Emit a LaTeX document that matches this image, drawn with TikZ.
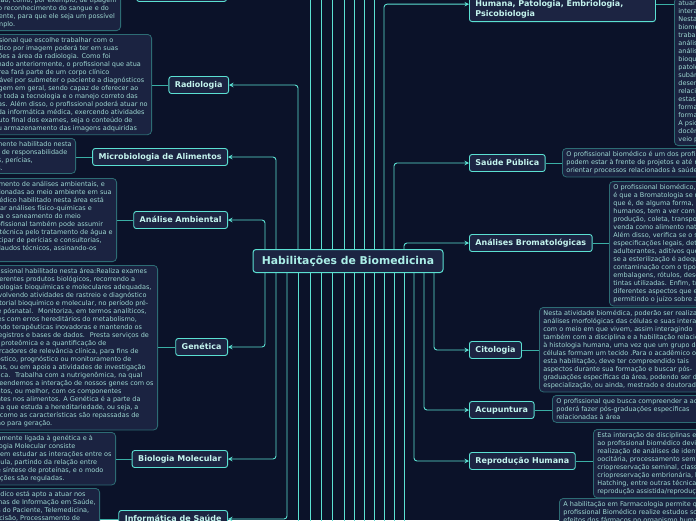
\documentclass[tikz,border=0pt]{standalone}
\usepackage{fontspec}
\setmainfont{DejaVu Sans}
\usetikzlibrary{arrows.meta,positioning}

\definecolor{bgnavy}{HTML}{0B1229}
\definecolor{boxnavy}{HTML}{1C2442}
\definecolor{notefill}{HTML}{1B2341}
\definecolor{noteedge}{HTML}{2D6C74}
\definecolor{cyanline}{HTML}{5BE0D2}
\definecolor{stubteal}{HTML}{3AAFA5}
\definecolor{notetext}{HTML}{9ED8D2}
\definecolor{branchtext}{HTML}{C4F4EE}
\definecolor{hubtext}{HTML}{ABEFE8}

\begin{document}
\begin{tikzpicture}[x=1pt, y=-1pt,
    hub/.style={rectangle, rounded corners=3pt, draw=cyanline, line width=1pt, fill=boxnavy, text=hubtext,
        font=\fontsize{10.8}{13}\selectfont\bfseries, minimum width=190pt, minimum height=23pt, inner sep=0pt},
    branch/.style={rectangle, rounded corners=2.5pt, draw=cyanline, line width=0.9pt, fill=boxnavy, text=branchtext,
        font=\fontsize{8}{10}\selectfont\bfseries, minimum height=17pt, inner xsep=6pt, inner ysep=0pt,
        text height=6pt, text depth=1.8pt},
    note/.style={rectangle, rounded corners=4pt, draw=noteedge, line width=0.8pt, fill=notefill, text=notetext,
        font=\fontsize{6.5}{8}\selectfont, align=left, inner xsep=4pt, inner ysep=3pt},
    link/.style={draw=cyanline, line width=0.9pt, rounded corners=3pt, -{Stealth[length=4.5pt,width=4.5pt]}},
    trunk/.style={draw=cyanline, line width=0.9pt},
    stub/.style={draw=stubteal, line width=1pt}
]
    \useasboundingbox (0,0) rectangle (696,520);
    \fill[bgnavy] (0,0) rectangle (696,520);
    \clip (0,0) rectangle (696,520);

    % centre
    \node[hub] (hab) at (348,261) {Habilitações de Biomedicina};

    % left branches
    \node[branch, anchor=east] (sangue) at (227,-7) {Banco de Sangue};
    \node[branch, anchor=east] (radio) at (229,85) {Radiologia};
    \node[branch, anchor=east] (micro) at (228,157) {Microbiologia de Alimentos};
    \node[branch, anchor=east] (amb) at (228,220) {Análise Ambiental};
    \node[branch, anchor=east] (gen) at (228,347) {Genética};
    \node[branch, anchor=east] (biomol) at (228,459) {Biologia Molecular};
    \node[branch, anchor=east] (info) at (228,519) {Informática de Saúde};

    % right branches
    \node[branch, anchor=south west, text width=174pt, align=left, text height=, text depth=, inner ysep=3pt] (anat) at (469,22)
        {\strut\\Humana, Patologia, Embriologia,\\Psicobiologia};
    \node[branch, anchor=west] (saude) at (469,163) {Saúde Pública};
    \node[branch, anchor=west] (brom) at (469,243) {Análises Bromatológicas};
    \node[branch, anchor=west] (cito) at (469,350) {Citologia};
    \node[branch, anchor=west] (acu) at (469,410) {Acupuntura};
    \node[branch, anchor=west] (repro) at (469,461) {Reprodução Humana};

    % notes, left
    \node[note, anchor=south east] (sanguenote) at (121,31) {ficação, como, por exemplo, de tipagem\\
        até o reconhecimento do sangue e do\\paciente, para que ele seja um possível\\exemplo.};
    \node[note, anchor=north east] (radionote) at (152,34) {O profissional que escolhe trabalhar com o\\
        diagnóstico por imagem poderá ter em suas\\atribuições a área da radiologia. Como foi\\
        mencionado anteriormente, o profissional que atua\\nessa área fará parte de um corpo clínico\\
        responsável por submeter o paciente a diagnósticos\\por imagem em geral, sendo capaz de oferecer ao\\
        paciente toda a tecnologia e o manejo correto das\\máquinas. Além disso, o profissional poderá atuar no\\
        campo da informática médica, exercendo atividades\\no produto final dos exames, seja o conteúdo de\\
        laudo ou armazenamento das imagens adquiridas};
    \node[note, anchor=north east] (micronote) at (76,138) {devidamente habilitado nesta\\
        funções de responsabilidade\\técnicos, perícias,\\análises.};
    \node[note, anchor=north east] (ambnote) at (117,178) {tratamento de análises ambientais, e\\
        relacionadas ao meio ambiente em sua\\biomédico habilitado nesta área está\\
        efetuar análises físico-químicas e\\e para o saneamento do meio\\O profissional também pode assumir\\
        área técnica pelo tratamento de água e\\participar de perícias e consultorias,\\
        com laudos técnicos, assinando-os\\\mbox{}};
    \node[note, anchor=north east] (gennote) at (158,265) {O profissional habilitado nesta área:Realiza exames\\
        em diferentes produtos biológicos, recorrendo a\\metodologias bioquímicas e moleculares adequadas,\\
        desenvolvendo atividades de rastreio e diagnóstico\\laboratorial bioquímico e molecular, no período pré-\\
        natal e pósnatal.~ Monitoriza, em termos analíticos,\\doentes com erros hereditários do metabolismo,\\
        avaliando terapêuticas inovadoras e mantendo os\\seus registros e bases de dados.~ Presta serviços de\\
        DNA e proteômica e a quantificação de\\biomarcadores de relevância clínica, para fins de\\
        diagnóstico, prognóstico ou monitoramento de\\doenças, ou em apoio a atividades de investigação\\
        científica.~ Trabalha com a nutrigenômica, na qual\\compreendemos a interação de nossos genes com os\\
        alimentos, ou melhor, com os componentes\\presentes nos alimentos. A Genética é a parte da\\
        biologia que estuda a hereditariedade, ou seja, a\\forma como as características são repassadas de\\
        geração para geração.};
    \node[note, anchor=north east] (biomolnote) at (116,432) {Intimamente ligada à genética e à\\
        a Biologia Molecular consiste\\tanto em estudar as interações entre os\\da célula, partindo da relação entre\\
        RNA e síntese de proteínas, e o modo\\interações são reguladas.};
    \node[note, anchor=north east] (infonote) at (100,488) {biomédico está apto a atuar nos\\
        Sistemas de Informação em Saúde,\\Dados do Paciente, Telemedicina,\\de Decisão, Processamento de\\
        \mbox{}\\\mbox{}};

    % notes, right
    \node[note, anchor=south west] (anatnote) at (674,146) {atuar em\\interação\\Nesta área\\biomédico\\
        trabalha\\análises\\análises\\bioquímicas\\patológicas\\subáreas\\desenvolver\\relacionadas\\
        estas\\formação\\formação\\A psicobiologia\\docência\\veio para};
    \node[note, anchor=north west] (saudenote) at (562,148) {O profissional biomédico é um dos profissionais que\\
        podem estar à frente de projetos e até mesmo\\orientar processos relacionados à saúde pública.};
    \node[note, anchor=north west] (bromnote) at (609,181) {O profissional biomédico, deve saber que\\
        é que a Bromatologia se refere a tudo\\que é, de alguma forma, ingerido pelos\\
        humanos, tem a ver com o alimento desde a\\produção, coleta, transporte da matéria-prima,\\
        venda como alimento natural ou industrializado.\\Além disso, verifica se o seu conteúdo atende\\
        especificações legais, detecta a presença de\\adulterantes, aditivos que são prejudiciais,\\
        se a esterilização é adequada, se existe\\contaminação com o tipo de material das\\
        embalagens, rótulos, desenhos e das\\tintas utilizadas. Enfim, trata de todos os\\
        diferentes aspectos que envolvem um alimento,\\permitindo o juízo sobre a sua qualidade.};
    \node[note, anchor=north west] (citonote) at (539,307) {Nesta atividade biomédica, poderão ser realizadas\\
        análises morfológicas das células e suas interações\\com o meio em que vivem, assim interagindo\\
        também com a disciplina e a habilitação relacionada\\à histologia humana, uma vez que um grupo de\\
        células formam um tecido .Para o acadêmico optar\\esta habilitação, deve ter compreendido tais\\
        aspectos durante sua formação e buscar pós-\\graduações específicas da área, podendo ser de\\
        especialização, ou ainda, mestrado e doutorado.};
    \node[note, anchor=north west] (acunote) at (552,395) {O profissional que busca compreender a acupuntura\\
        poderá fazer pós-graduações específicas\\relacionadas à área};
    \node[note, anchor=north west] (repronote) at (593,429) {Esta interação de disciplinas e habilitações\\
        ao profissional biomédico devidamente habilitado\\realização de análises de identificação\\
        oocitária, processamento seminal,\\criopreservação seminal, classificação e\\
        criopreservação embrionária, biópsia,\\Hatching, entre outras técnicas de\\
        reprodução assistida/reprodução humana.};
    \node[note, anchor=north west] (farmnote) at (559,498) {A habilitação em Farmacologia permite que o\\
        profissional Biomédico realize estudos sobre os\\efeitos dos fármacos no organismo humano};

    % stubs from branch to note
    \draw[stub] (sangue.west) -- (sanguenote.east |- sangue.west);
    \draw[stub] (radio.west) -- (radionote.east |- radio.west);
    \draw[stub] (micro.west) -- (micronote.east |- micro.west);
    \draw[stub] (amb.west) -- (ambnote.east |- amb.west);
    \draw[stub] (gen.west) -- (gennote.east |- gen.west);
    \draw[stub] (biomol.west) -- (biomolnote.east |- biomol.west);
    \draw[stub] (info.west) -- (infonote.east |- info.west);
    \draw[stub] (anat.east) -- (anatnote.west |- anat.east);
    \draw[stub] (saude.east) -- (saudenote.west |- saude.east);
    \draw[stub] (brom.east) -- (bromnote.west |- brom.east);
    \draw[stub] (cito.east) -- (citonote.west |- cito.east);
    \draw[stub] (acu.east) -- (acunote.west |- acu.east);
    \draw[stub] (repro.east) -- (repronote.west |- repro.east);

    % lines leaving the view
    \foreach \dx in {-38,-27,-16,-4,6,16,26}
        \draw[trunk] ([xshift=\dx pt]hab.north) -- ++(0,-260);
    \foreach \dx in {-50,-38,-27,-16,-4,6,16,26,36,46,56}
        \draw[trunk] ([xshift=\dx pt]hab.south) -- ++(0,260);

    % connectors
    \draw[link] ([xshift=-50pt]hab.north) |- (radio.east);
    \draw[link] ([xshift=-72pt]hab.north) |- (micro.east);
    \draw[link] ([xshift=-83pt]hab.north) |- (amb.east);
    \draw[link] ([xshift=36pt]hab.north) |- (anat.west);
    \draw[link] ([xshift=46pt]hab.north) |- (saude.west);
    \draw[link] ([xshift=56pt]hab.north) |- (brom.west);
    \draw[link] ([xshift=-83pt]hab.south) |- (gen.east);
    \draw[link] ([xshift=-72pt]hab.south) |- (biomol.east);
    \draw[link] ([xshift=-61pt]hab.south) |- (info.east);
    \draw[link] ([xshift=66pt]hab.south) |- (repro.west);
    \draw[link] ([xshift=76pt]hab.south) |- (acu.west);
    \draw[link] ([xshift=86pt]hab.south) |- (cito.west);
\end{tikzpicture}
\end{document}
